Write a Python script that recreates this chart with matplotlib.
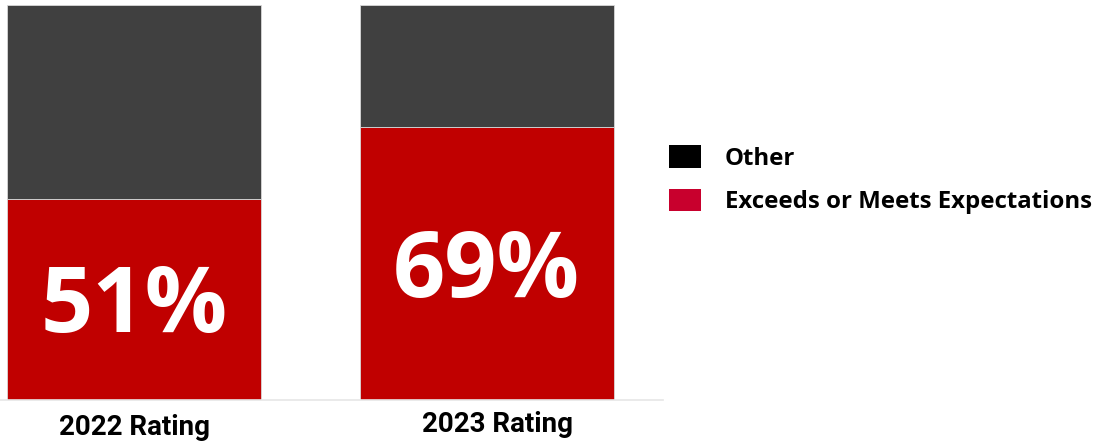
import matplotlib.pyplot as plt
from matplotlib.patches import Patch

categories = ["2022 Rating", "2023 Rating"]
meets = [51, 69]
other = [49, 31]
series_names = ["Other", "Exceeds or Meets Expectations"]

dark = "#404040"
red = "#C00000"

fig = plt.figure(figsize=(11.04, 4.44), dpi=100)
# axes placed in pixel terms: bottom line at y=400 px, top at 5 px
ax = fig.add_axes([0, 44 / 444, 663 / 1104, 395 / 444])

x = [0, 1]
ax.bar(x, meets, width=0.72, color=red, edgecolor="#d8d8d8", linewidth=0.6)
ax.bar(x, other, width=0.72, bottom=meets, color=dark, edgecolor="#d8d8d8", linewidth=0.6)

for i, v in enumerate(meets):
    ax.text(x[i], v / 2 - 2.3, f"{v}%", ha="center", va="center",
            color="white", fontsize=66, fontweight="bold", family="Open Sans")

ax.set_xlim(-0.38, 1.5)
ax.set_ylim(0, 100)
for s in ["top", "right", "left"]:
    ax.spines[s].set_visible(False)
ax.spines["bottom"].set_color("#e6e6e6")
ax.spines["bottom"].set_linewidth(1.2)
ax.set_yticks([])
ax.set_xticks(x)
ax.set_xticklabels([])
ax.tick_params(axis="x", length=0)

# category labels (second sits a bit to the right and higher)
ax.text(x[0], -7, categories[0], ha="center", va="center", fontsize=20,
        fontweight="bold", family="Roboto", clip_on=False)
ax.text(x[1] + 0.03, -6.3, categories[1], ha="center", va="center", fontsize=20,
        fontweight="bold", family="Roboto", clip_on=False)

handles = [Patch(facecolor="#000000", label=series_names[0]),
           Patch(facecolor="#C8002D", label=series_names[1])]
fig.legend(handles=handles, loc="upper left", bbox_to_anchor=(669 / 1104, 299 / 444),
           frameon=False, prop={"family": "Open Sans", "weight": "bold", "size": 17.3},
           borderpad=0, borderaxespad=0,
           handlelength=1.33, handleheight=1.08, handletextpad=1.0, labelspacing=0.75)

fig.savefig("out.png", dpi=100)
